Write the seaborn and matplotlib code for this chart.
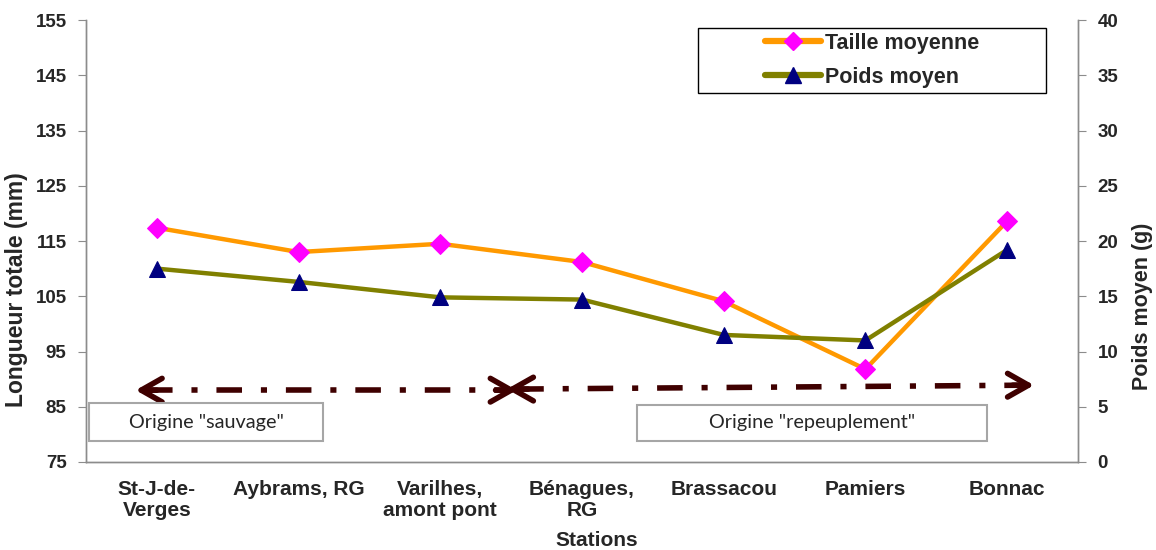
import pandas as pd
import matplotlib.pyplot as plt
import seaborn as sns
from matplotlib.patches import Rectangle
from matplotlib.lines import Line2D

# ==============================
# DATA
# ==============================
stations = ["St-J-de-\nVerges", "Aybrams, RG", "Varilhes,\namont pont", "Bénagues,\nRG",
            "Brassacou", "Pamiers", "Bonnac"]
taille = [117.4, 113.0, 114.5, 111.2, 104.1, 91.8, 118.6]   # mm
poids = [17.5, 16.3, 14.9, 14.7, 11.5, 11.0, 19.2]          # g

left_ticks = [75, 85, 95, 105, 115, 125, 135, 145, 155]
right_ticks = [0, 5, 10, 15, 20, 25, 30, 35, 40]

df = pd.DataFrame({"Station": stations, "Taille": taille, "Poids": poids})

# ==============================
# STYLE
# ==============================
sns.set_style("white")
plt.rcParams['font.family'] = ['Liberation Sans', 'DejaVu Sans']
grey = "#8c8c8c"
orange = "#ff9900"
olive = "#808000"
brown = "#3f0000"

fig = plt.figure(figsize=(11.56, 5.5), dpi=100)
ax = fig.add_axes([0.0744, 0.16, 0.8581, 0.8036])
ax2 = ax.twinx()

sns.lineplot(data=df, x="Station", y="Taille", ax=ax, sort=False, color=orange, lw=3.2,
             marker="D", markersize=10, markerfacecolor="#ff00ff", markeredgecolor="#ff00ff")
sns.lineplot(data=df, x="Station", y="Poids", ax=ax2, sort=False, color=olive, lw=3.2,
             marker="^", markersize=12, markerfacecolor="#000080", markeredgecolor="#000080")

ax.set_ylim(75, 155)
ax2.set_ylim(0, 40)
ax.set_xlim(-0.5, 6.5)
ax.set_yticks(left_ticks)
ax2.set_yticks(right_ticks)
ax.set_xticks(range(len(stations)))
ax.set_xticklabels(stations, fontsize=15, fontweight="bold", linespacing=1.1)
ax.set_xticks([i - 0.5 for i in range(len(stations) + 1)], minor=True)
ax.tick_params(axis="x", which="major", length=0, pad=13)
ax.tick_params(axis="x", which="minor", length=8, color=grey, direction="out")
ax.tick_params(axis="y", length=6, color=grey, direction="out", labelsize=13.5, pad=8)
ax2.tick_params(axis="y", length=6, color=grey, direction="out", labelsize=13.5, pad=8)
for lab in ax.get_yticklabels() + ax2.get_yticklabels():
    lab.set_fontweight("bold")

for a in (ax, ax2):
    a.spines["top"].set_visible(False)
    for s in ("left", "right", "bottom"):
        a.spines[s].set_color(grey)
        a.spines[s].set_linewidth(1.0)

ax.set_ylabel("Longueur totale (mm)", fontsize=16.5, fontweight="bold")
ax2.set_ylabel("Poids moyen (g)", fontsize=15.5, fontweight="bold")
ax.set_xlabel("Stations", fontsize=15, fontweight="bold")
ax.yaxis.set_label_coords(-0.058, 0.389)
ax2.yaxis.set_label_coords(1.0544, 0.353)
ax.xaxis.set_label_coords(0.515, -0.155)

# ==============================
# ORIGIN ARROWS + BOXES
# ==============================
arrows = [((-0.15, 88.0), (2.54, 88.0)), ((2.47, 88.2), (6.19, 88.9))]
for (x0, y0), (x1, y1) in arrows:
    ax.plot([x0 + 0.08, x1 - 0.08], [y0, y1], color=brown, lw=4,
            dashes=(4.6, 3.4, 1.1, 3.4), solid_capstyle="butt")
    for (xs, ys), (xe, ye) in [((x0 + 0.15, y0), (x0, y0)), ((x1 - 0.15, y1), (x1, y1))]:
        ax.annotate("", xy=(xe, ye), xytext=(xs, ys),
                    arrowprops=dict(arrowstyle="->, head_length=1.5, head_width=0.85",
                                    color=brown, lw=4, capstyle="round",
                                    joinstyle="round", shrinkA=0, shrinkB=0))

boxes = [(0.003, 0.0475, 0.236, 0.086, 'Origine "sauvage"'),
         (0.555, 0.0475, 0.353, 0.0815, 'Origine "repeuplement"')]
for bx, by, bw, bh, txt in boxes:
    ax.add_patch(Rectangle((bx, by), bw, bh, transform=ax.transAxes, facecolor="white",
                           edgecolor="#a6a6a6", lw=1.5, zorder=3))
    ax.text(bx + bw / 2, by + bh / 2, txt, transform=ax.transAxes, ha="center", va="center",
            fontsize=14.3, family=["Lato", "DejaVu Sans"], zorder=4)

# ==============================
# LEGEND (frame drawn separately so entries sit centred in a wide box)
# ==============================
lx, ly, lw_, lh = 0.617, 0.835, 0.351, 0.147
ax2.add_patch(Rectangle((lx, ly), lw_, lh, transform=ax2.transAxes, facecolor="white",
                        edgecolor="black", lw=1.0, zorder=5))
handles = [Line2D([], [], color=orange, lw=4.5, marker="D", markersize=9,
                  markerfacecolor="#ff00ff", markeredgecolor="#ff00ff"),
           Line2D([], [], color=olive, lw=4.5, marker="^", markersize=11,
                  markerfacecolor="#000080", markeredgecolor="#000080")]
leg = ax2.legend(handles, ["Taille moyenne", "Poids moyen"], loc="center",
                 bbox_to_anchor=(lx + lw_ / 2, ly + lh / 2),
                 prop={"weight": "bold", "size": 15.5}, frameon=False,
                 handlelength=2.6, handletextpad=0.2, borderpad=0.0, labelspacing=0.6,
                 borderaxespad=0)
leg.set_zorder(6)

fig.savefig("out.png", dpi=100)
